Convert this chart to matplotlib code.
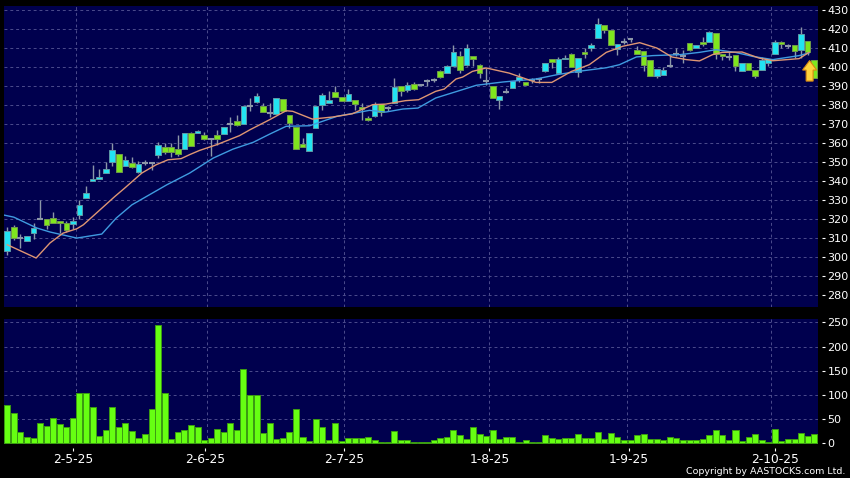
import matplotlib
matplotlib.use('Agg')
from matplotlib import pyplot as plt
import numpy as np

# candles (cyan = up, green = down, gray = flat)
opens = [303, 316, 310, 308.4, 312.5, 320.2, 320.2, 320.3, 318.8, 317.7,
         317.2, 322, 330.9, 339.8, 341, 344, 349.8, 354.2, 348, 349.6,
         345, 349.5, 349.5, 353.5, 357.7, 357.7, 356.8, 356.8, 365.3, 365.4,
         364, 362.3, 364, 364.6, 369.8, 371.4, 369.8, 379.6, 381.8, 379.6,
         375.6, 375.4, 383, 374.7, 368.4, 359.5, 356, 367.9, 380, 381,
         386.8, 384.2, 382.1, 382.6, 378.8, 373.2, 374.2, 380.7, 378.2, 380.9,
         390.2, 387.9, 390.9, 390.7, 392.8, 393.3, 397.7, 396.8, 400.7, 405.6,
         401, 405.6, 400.9, 392.8, 389.8, 382.6, 386.7, 389, 393.2, 392.1,
         393.3, 393.7, 397.7, 404, 396.8, 404.2, 406.7, 397.2, 407.9, 409.8,
         415.3, 422.1, 419.5, 409.5, 413, 414.9, 409, 408.2, 403.5, 395.1,
         395.8, 400.7, 406.7, 405.6, 412.5, 409.8, 413.2, 413, 417.9, 407,
         405.3, 406.5, 397.7, 401.9, 398.4, 398.4, 402.1, 406.7, 413.2, 411.2,
         411.4, 408.9, 413.5, 403.9]
closes = [313.5, 310, 310, 311, 315.3, 320.2, 316.7, 318, 318, 314.2,
          319, 327.4, 333.7, 340.9, 342, 346.3, 356.5, 345, 351, 347.2,
          349, 349.5, 349.5, 359, 355.3, 355.3, 354, 365.3, 358.2, 366.3,
          361.9, 362.3, 361.9, 368.2, 369.8, 369.3, 379.6, 379.6, 384.9, 376.1,
          375.6, 383.6, 376.9, 370.5, 356.8, 357.7, 365.1, 379.5, 385.3, 382.6,
          384.2, 381.9, 385.8, 380.4, 377.9, 372.1, 380.7, 376.5, 378.2, 389.5,
          387.4, 390.5, 388.4, 390.7, 392.8, 393.3, 394.7, 400.4, 407.7, 398.4,
          410, 404, 396.8, 392.8, 383.7, 384.6, 386.7, 392.8, 394.6, 390.5,
          393.3, 393.7, 402.1, 402.6, 404, 404.9, 400, 404.6, 406.8, 411.6,
          422.6, 419.3, 411.6, 411.9, 413, 414.9, 406.8, 400.9, 395.4, 398.8,
          398.2, 400.7, 406.7, 405.6, 409.1, 411.4, 412.1, 418.2, 406.8, 406,
          405.3, 400.4, 401.9, 398.4, 395.1, 403.7, 404.2, 413, 412.1, 411.2,
          408.2, 417.4, 407.9, 394.2]
highs = [316, 317, 312.3, 311, 318, 330.2, 320.2, 323.7, 318.8, 318.8,
         321, 330, 337.2, 348.6, 346.3, 349.8, 360, 354.2, 353.3, 352.6,
         350.4, 351.2, 349.5, 360.5, 360, 360, 364.4, 365.3, 366, 367,
         366, 362.3, 367, 368.2, 373.9, 374.7, 379.6, 383.9, 386.1, 380.9,
         380.9, 383.6, 383, 374.7, 368.4, 362.6, 365.1, 379.5, 386.3, 387.2,
         389.8, 384.2, 388.4, 382.6, 381, 374.4, 381.4, 380.7, 379.3, 394.2,
         390.2, 391.9, 391.9, 391.2, 393.7, 394.4, 398.6, 401.2, 411.8, 408.2,
         412.3, 405.6, 401.6, 399.5, 389.8, 384.6, 388.9, 392.8, 396.8, 392.1,
         394.2, 394.2, 402.1, 404, 405.3, 406.5, 407.4, 404.6, 410, 412.6,
         425.8, 422.1, 419.5, 411.9, 415.3, 414.9, 410.9, 408.2, 403.5, 398.8,
         400, 406.5, 410, 409.1, 412.5, 411.4, 415.8, 418.8, 417.9, 407,
         408.2, 406.5, 401.9, 401.9, 398.4, 405.3, 404.2, 414, 413.8, 412,
         411.4, 421.1, 413.5, 403.9]
lows = [301, 309, 304.7, 308.4, 309.6, 320, 315, 318, 312.6, 313,
        315, 320, 330.9, 339.8, 341, 344, 348, 344.7, 348, 346.8,
        344.2, 348.6, 345.6, 352, 354.4, 352.6, 353, 356.8, 358.2, 365.4,
        361.8, 353.3, 359, 364.6, 366, 369, 369.8, 376.8, 380.9, 376.1,
        373.9, 375.4, 376.9, 367.9, 356.8, 357.7, 356, 367.9, 377.5, 381,
        384.2, 381.9, 382.1, 377.2, 372.3, 371.4, 373.7, 374.4, 376.7, 380.9,
        384.6, 386.7, 387.7, 390.2, 390.2, 392.1, 394.2, 396.8, 400.7, 396.8,
        400.4, 400.4, 394.2, 390.7, 383.7, 377.9, 386.4, 389, 391.9, 390.5,
        391.6, 391.8, 397.2, 399.5, 396.5, 404.2, 400, 394.7, 404.7, 408.2,
        415.3, 417.9, 411.6, 406.5, 412.3, 413, 406.8, 397.7, 395.4, 394.2,
        395.8, 400, 405.6, 402.1, 408.4, 409.8, 410.9, 413, 404.2, 403.9,
        403.9, 397.7, 397.7, 398.4, 394, 398.4, 400.4, 406.7, 410, 410,
        404.7, 404.7, 406.5, 394.2]

# moving averages, vertices
ma_short_x = [0, 4.4, 6.5, 8.5, 10.6, 11.6, 13.6, 16.4, 17.9, 20.5, 22.7, 24.5, 26.5,
              27.8, 29.3, 31.9, 35.4, 37, 40, 42.5, 43.5, 46.5, 49.6, 52.6, 55.7,
              57.7, 60.7, 62.7, 65.3, 66.6, 68.4, 69.4, 70.9, 73, 76.5, 80.6,
              83, 86, 88.7, 91.3, 93.8, 96.4, 99, 101.3, 103.5, 105.5, 107.5,
              109, 112, 114.6, 116.7, 120.7, 122.2]
ma_short = [306.5, 299.5, 307.4, 312.6, 314.9, 317, 323.2, 331.9, 336.3, 344.2, 348.6, 351.2, 351.8,
            353.9, 356.1, 359.1, 363.9, 367, 372.3, 377, 376.7, 372.6, 373.7, 375.4, 380.2,
            380.5, 382.3, 382.8, 387.2, 388.4, 393.7, 394.7, 397.7, 399.5, 396.8, 391.9,
            391.9, 397.7, 401.2, 407.7, 410.9, 412.8, 410, 405.3, 403.9, 403.2, 406.5,
            407.7, 407.9, 404.7, 403.3, 404.4, 407.7]
ma_long_x = [-0.5, 1, 4.5, 6.5, 10.6, 14.4, 16.6, 19, 24.3, 27.8, 31.4, 34.4, 37.5, 40,
             42.5, 46.1, 50.2, 55.2, 57.7, 60.3, 62.6, 65.3, 69.4, 71.5, 75.5, 80.6,
             84, 87, 91.3, 93.3, 95.9, 98.4, 102.5, 105.5, 108, 111, 113.6, 116.7,
             120.7, 122.2]
ma_long = [322.1, 321, 315.3, 313.2, 310, 312.1, 320.5, 327.5, 338, 344.2, 352.1, 356.8, 360.4, 364.7,
           368.8, 369.1, 374, 377.2, 376.3, 377.9, 378.4, 383.7, 388.1, 390.4, 392.1, 393.7,
           396.1, 397.7, 399.6, 401.2, 405.3, 406, 406.5, 407.7, 409.1, 407.7, 405.6, 403.9,
           406, 407.4]

volumes = [80, 62, 23, 13, 11, 43, 36, 53, 39, 34, 52, 103, 103, 76, 15, 27, 75, 33, 41, 25,
           10, 20, 70, 244, 105, 8, 23, 27, 38, 34, 7, 10, 30, 23, 41, 27, 154, 100, 100, 21,
           43, 8, 10, 23, 70, 14, 5, 50, 33, 7, 41, 4, 11, 10, 12, 14, 7, 3, 3, 26,
           6, 6, 3, 3, 2, 6, 10, 14, 27, 17, 9, 34, 19, 15, 27, 8, 14, 14, 3, 6,
           2, 2, 17, 11, 8, 10, 10, 19, 10, 11, 23, 8, 21, 14, 6, 6, 18, 20, 8, 9,
           6, 13, 10, 6, 7, 7, 9, 17, 27, 17, 6, 27, 5, 13, 19, 6, 2, 30, 4, 8,
           8, 21, 15, 19]

price_ticks = list(range(280, 431, 10))
volume_ticks = [0, 50, 100, 150, 200, 250]
date_labels = ['2-5-25', '2-6-25', '2-7-25', '1-8-25', '1-9-25', '2-10-25']
date_ticks = [10, 30.2, 51.4, 73.5, 94.7, 117]
date_grid = [10.5, 30.5, 51.4, 73.5, 94.4, 116.4]

W, H = 850, 478
PANEL = '#00004e'
GRID = '#4c4c8c'
UP = '#22e4f2'
DOWN = '#7fe61e'


def panel_axes(fig, top, bottom, left=4, right=817.5):
    ax = fig.add_axes([left / W, 1 - bottom / H, (right - left) / W, (bottom - top) / H])
    ax.set_facecolor(PANEL)
    for side in ['left', 'top']:
        ax.spines[side].set_visible(False)
    for side in ['right', 'bottom']:
        ax.spines[side].set_visible(False)
        ax.spines[side].set_position(('outward', 3))
    ax.yaxis.tick_right()
    ax.tick_params(axis='y', colors='white', labelsize=8, length=2.2, width=0.8, pad=2)
    ax.set_xlim(-0.5, 123.5)
    ax.set_axisbelow(True)
    ax.grid(False)
    for g in date_grid:
        ax.axvline(g, color=GRID, lw=0.7, ls=(0, (3, 3)), zorder=0)
    return ax


fig = plt.figure(figsize=(W / 100, H / 100), dpi=100, facecolor='black')

# price panel
ax = panel_axes(fig, 6, 306.5)
ax.set_ylim(274, 432.1)
ax.set_yticks(price_ticks)
ax.set_xticks([])
for p in price_ticks:
    ax.axhline(p, color=GRID, lw=0.7, ls=(0, (3, 3)), zorder=0)

x = np.arange(len(opens))
o, c = np.array(opens), np.array(closes)
ax.vlines(x, lows, highs, color='#8c97a8', lw=1.0, zorder=2)
flat = o == c
up = c > o
down = c < o
ax.bar(x[up], (c - o)[up], bottom=o[up], width=0.86, color=UP, edgecolor='#5f9aa6', lw=0.7, zorder=3)
ax.bar(x[down], (c - o)[down], bottom=o[down], width=0.86, color=DOWN, edgecolor='#6f9a4a', lw=0.7, zorder=3)
ax.hlines(o[flat], x[flat] - 0.45, x[flat] + 0.45, color='#8c97a8', lw=1.5, zorder=3)

ax.plot(ma_long_x, ma_long, color='#3f9be0', lw=1.0, zorder=4)
ax.plot(ma_short_x, ma_short, color='#df9673', lw=1.0, zorder=4)

# yellow arrow on the last candle
ax_x, half, shaft = 122.3, 1.07, 0.53
ax.fill([ax_x, ax_x + half, ax_x + shaft, ax_x + shaft, ax_x - shaft, ax_x - shaft, ax_x - half],
        [403.4, 398.4, 398.4, 392.6, 392.6, 398.4, 398.4],
        facecolor='#ffd23c', edgecolor='#d98a10', lw=0.8, zorder=5)

# volume panel
vax = panel_axes(fig, 318.5, 444)
vax.set_ylim(-1.4, 257.9)
vax.set_yticks(volume_ticks)
for v in volume_ticks:
    vax.axhline(v, color=GRID, lw=0.7, ls=(0, (3, 3)), zorder=0)
vax.bar(np.arange(len(volumes)), volumes, width=0.92, color='#66ff12', edgecolor='#3c9c12', lw=0.7, zorder=3)
vax.set_xticks(date_ticks)
vax.set_xticklabels(date_labels)
vax.tick_params(axis='x', colors='white', labelsize=8.8, length=2.2, width=0.8, pad=1.5)

fig.text(845 / W, 1 - 471 / H, 'Copyright by AASTOCKS.com Ltd.', color='white', fontsize=6.8,
         ha='right', va='center')

fig.savefig('out.png', dpi=100, facecolor='black')
